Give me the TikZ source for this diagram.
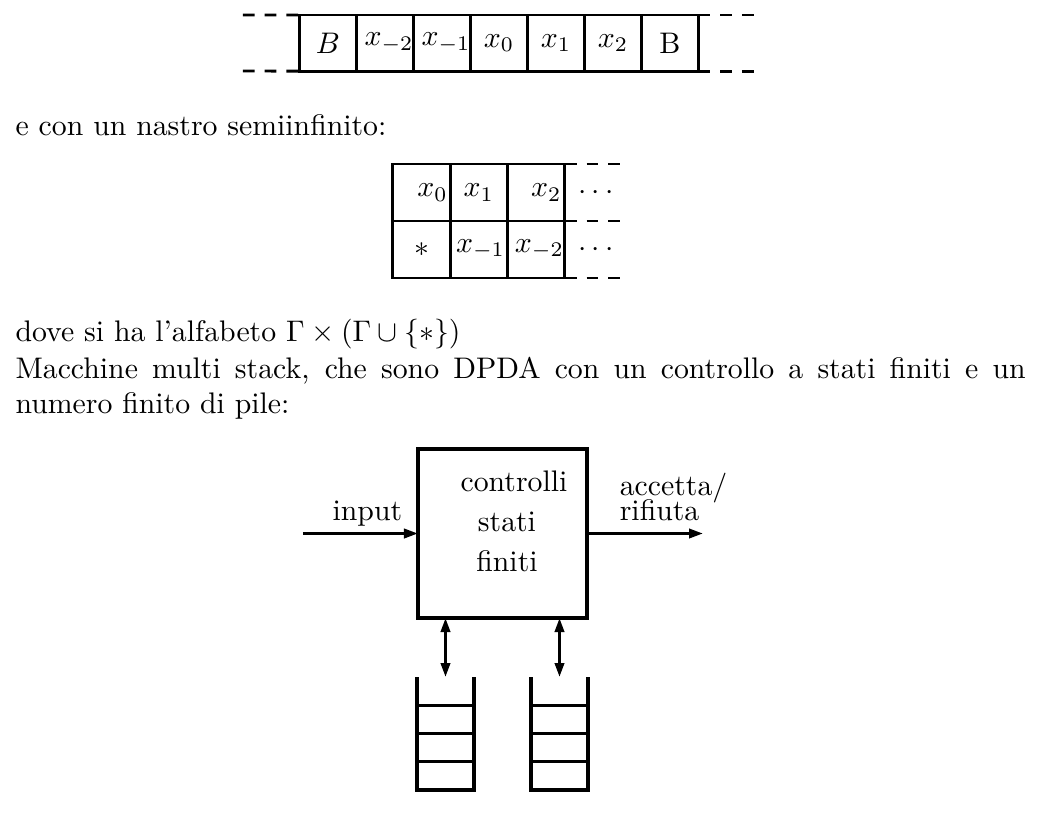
\documentclass[tikz,border=0pt]{standalone}
\usetikzlibrary{arrows.meta, positioning, calc}
\tikzset{
  cella/.style={draw, line width=1pt, inner sep=0pt, outer sep=0pt, minimum width=19.15pt, minimum height=18.82pt},
  cellab/.style={cella, minimum width=19.25pt, minimum height=19.15pt},
  destra/.style={text width=#1, align=right},
  tratto/.style={line width=1pt, dash pattern=on 3.93pt off 3.36pt},
  riga/.style={anchor=base west, inner sep=0pt},
  scatola/.style={draw, line width=1.1pt, minimum width=56.8pt, minimum height=56.8pt, inner sep=0pt, outer sep=0pt},
  pila/.style={inner sep=0pt, outer sep=0pt, minimum width=19.15pt, minimum height=37.97pt},
  bordo/.style={line width=1.15pt},
  freccia/.style={-{Triangle[length=4.7pt, width=3.1pt]}, line width=1pt},
  freccia2/.style={{Triangle[length=4.7pt, width=3.1pt]}-{Triangle[length=4.7pt, width=3.1pt]}, line width=1pt},
  etich/.style={inner sep=0pt, align=left},
}

\begin{document}
\begin{tikzpicture}[x=0.336pt, y=-0.336pt]
  \useasboundingbox (0,0) rectangle (1051,828);
  % nastro infinito
  \node[cella] (n1) at (328,43) {$B$};
  \node[cella, right=0pt of n1, destra=19.15pt] (n2) {$x_{-2}$};
  \node[cella, right=0pt of n2, destra=19.15pt] (n3) {$x_{-1}$};
  \node[cella, right=0pt of n3] (n4) {$x_0$};
  \node[cella, right=0pt of n4] (n5) {$x_1$};
  \node[cella, right=0pt of n5] (n6) {$x_2$};
  \node[cella, right=0pt of n6] (n7) {B};
  \draw[tratto] (243,15) -- (n1.north west);
  \draw[tratto] (243,71) -- (n1.south west);
  \draw[tratto] (n7.north east) -- ++(59,0);
  \draw[tratto] (n7.south east) -- ++(59,0);

  \node[riga] (r1) at (15,135) {e con un nastro semiinfinito:};

  % nastro semiinfinito
  \node[cellab, destra=17.6pt] (a1) at (421.6,192.5) {$x_0$};
  \node[cellab, right=0pt of a1] (a2) {$x_1$};
  \node[cellab, right=0pt of a2, destra=17pt] (a3) {$x_2$};
  \node[cellab, below=0pt of a1] (b1) {$*$};
  \node[cellab, right=0pt of b1, destra=17.6pt] (b2) {$x_{-1}$};
  \node[cellab, right=0pt of b2, destra=18.6pt] (b3) {$x_{-2}$};
  \node (p1) at (596,193) {$\cdots$};
  \node (p2) at (596,249.5) {$\cdots$};
  \draw[tratto] (a3.north east) -- ++(55,0);
  \draw[tratto] (a3.south east) -- ++(55,0);
  \draw[tratto] (b3.south east) -- ++(55,0);

  \node[riga] (r2) at (15,341) {dove si ha l'alfabeto $\Gamma\times(\Gamma\cup\{*\})$};
  \node[riga] (r3) at (15,378) {\makebox[339.4pt][s]{Macchine multi stack, che sono DPDA con un controllo a stati finiti e un}};
  \node[riga] (r4) at (15,413) {numero finito di pile:};

  % macchina multi stack
  \node[scatola] (ctl) at (502.5,533.5) {};
  \node[inner sep=0pt, align=center, font=\fontsize{10}{13.4}\selectfont] (ctltxt) at (507,521) {\hspace*{4.7pt}controlli\\stati\\finiti};
  \coordinate (inp) at (303,533.5);
  \coordinate (usc) at (703,533.5);
  \draw[freccia] (inp) -- node[pos=0.56, above, inner sep=2pt] (inlab) {input} (ctl);
  \draw[freccia] (ctl) -- node[pos=0.27, anchor=south west, yshift=3.6pt, etich] (outlab) {accetta/\\[-3.4pt]rifiuta} (usc);

  \node[pila] (s1) at (445.5,733.5) {};
  \node[pila] (s2) at (559.5,733.5) {};
  \foreach \s in {s1,s2} {
    \draw[bordo] (\s.north west) -- (\s.south west) -- (\s.south east) -- (\s.north east);
    \foreach \f in {0.25,0.5,0.75}
      \draw[bordo] ($(\s.south west)!\f!(\s.north west)$) -- ($(\s.south east)!\f!(\s.north east)$);
    \draw[freccia2] (\s.north) -- (\s.north |- ctl.south);
  }
\end{tikzpicture}
\end{document}
